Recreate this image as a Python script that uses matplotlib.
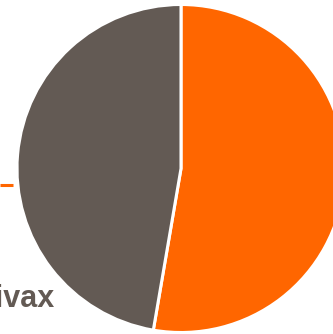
import matplotlib
matplotlib.use("Agg")
import matplotlib.pyplot as plt

# pie values (share, %)
labels = ["Falciparum", "Vivax"]
values = [52.7, 47.3]
colors = ["#ff6600", "#635a54"]

W, H = 333, 334
fig = plt.figure(figsize=(W / 100, H / 100), dpi=100)
ax = fig.add_axes([0, 0, 1, 1])
ax.set_xlim(0, W)
ax.set_ylim(0, H)
ax.set_aspect("equal")
ax.axis("off")

ax.pie(values, colors=colors, startangle=90, counterclock=False,
       center=(181, H - 168.5), radius=164,
       wedgeprops=dict(edgecolor="white", linewidth=2.2))
ax.set_xlim(0, W)
ax.set_ylim(0, H)

# leader line of the label that is cut off at left
ax.plot([0, 13], [H - 184.5, H - 184.5], color=colors[0], lw=2.2, solid_capstyle="butt")

# label partly outside the picture, as in the original crop
ax.text(55, H - 307, labels[1], ha="right", va="baseline", fontsize=22,
        fontweight="bold", family="Liberation Sans", color=colors[1])

fig.savefig("out.png", dpi=100)
